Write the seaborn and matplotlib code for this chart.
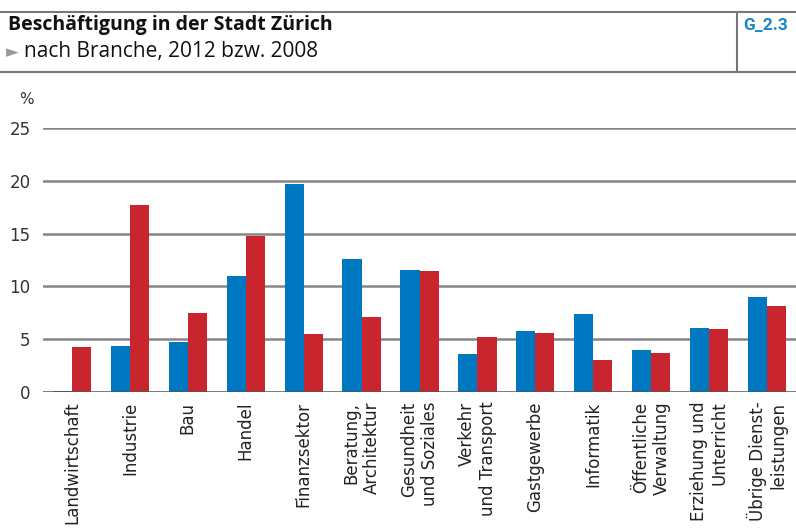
import matplotlib
matplotlib.use("Agg")
import matplotlib.pyplot as plt
from matplotlib.lines import Line2D
import seaborn as sns
import pandas as pd

categories = ["Landwirtschaft", "Industrie", "Bau", "Handel", "Finanzsektor",
              "Beratung,\nArchitektur", "Gesundheit\nund Soziales",
              "Verkehr\nund Transport", "Gastgewerbe", "Informatik",
              "Öffentliche\nVerwaltung", "Erziehung und\nUnterricht",
              "Übrige Dienst-\nleistungen"]
values_2012 = [0.1, 4.4, 4.7, 11.0, 19.7, 12.6, 11.6, 3.6, 5.8, 7.4, 4.0, 6.1, 9.0]
values_2008 = [4.3, 17.7, 7.5, 14.8, 5.5, 7.1, 11.5, 5.2, 5.6, 3.0, 3.7, 6.0, 8.1]
years = ["2012", "2008"]
yticks = [0, 5, 10, 15, 20, 25]

df = pd.DataFrame({
    "Branche": categories * 2,
    "Jahr": [years[0]] * len(categories) + [years[1]] * len(categories),
    "Wert": values_2012 + values_2008,
})

sns.set_style("white")
plt.rcParams["font.family"] = ["DejaVu Sans"]

fig = plt.figure(figsize=(7.96, 5.31), dpi=100)
ax = fig.add_axes([43 / 796, (531 - 392) / 531, (796 - 43) / 796, (392 - 128) / 531])

sns.barplot(data=df, x="Branche", y="Wert", hue="Jahr", order=categories,
            hue_order=years, palette=["#0078C1", "#C8252E"], width=0.66,
            saturation=1, legend=False, ax=ax, errorbar=None, linewidth=0)

ax.set_xlim(-0.5, len(categories) - 0.5)
ax.set_ylim(0, 25)
ax.set_yticks(yticks)
ax.set_yticklabels([str(t) for t in yticks], fontsize=12, color="#333333")
ax.set_xlabel("")
ax.set_ylabel("")
for s in ["top", "right", "left", "bottom"]:
    ax.spines[s].set_visible(False)
ax.tick_params(axis="y", length=0, pad=9)
ax.tick_params(axis="x", length=0, pad=7)
for y in yticks[1:]:
    ax.axhline(y, color="#858585", lw=1.8, zorder=0)
ax.axhline(0, color="#555555", lw=1.8, zorder=5)
ax.set_axisbelow(True)

ax.set_xticks(range(len(categories)))
ax.set_xticklabels(categories, rotation=90, ha="center", va="top",
                   multialignment="right", fontsize=12, color="#222222")

# header
fig.add_artist(Line2D([0, 1], [1 - 12 / 531, 1 - 12 / 531], color="#777777", lw=1.5))
fig.add_artist(Line2D([0, 1], [1 - 72 / 531, 1 - 72 / 531], color="#777777", lw=1.5))
fig.add_artist(Line2D([737 / 796, 737 / 796], [1 - 12 / 531, 1 - 72 / 531], color="#777777", lw=1.5))
fig.text(8 / 796, 1 - 25 / 531, "Beschäftigung in der Stadt Zürich", fontsize=14,
         fontweight="bold", family=["Open Sans", "DejaVu Sans"], va="center", ha="left", color="#111111")
fig.text(6 / 796, 1 - 52 / 531, "►", fontsize=12, color="#9a9a9a", va="center", ha="left")
fig.text(24 / 796, 1 - 52 / 531, "nach Branche, 2012 bzw. 2008", fontsize=15,
         family=["Open Sans", "DejaVu Sans"], va="center", ha="left", color="#111111")
fig.text(743 / 796, 1 - 25 / 531, "G_2.3", fontsize=12.5, fontweight="bold",
         family=["Roboto", "DejaVu Sans"], va="center", ha="left", color="#1a86c8")
fig.text(26 / 796, 1 - 100 / 531, "%", fontsize=11, va="center", ha="center", color="#333333")

fig.savefig("out.png", dpi=100)
